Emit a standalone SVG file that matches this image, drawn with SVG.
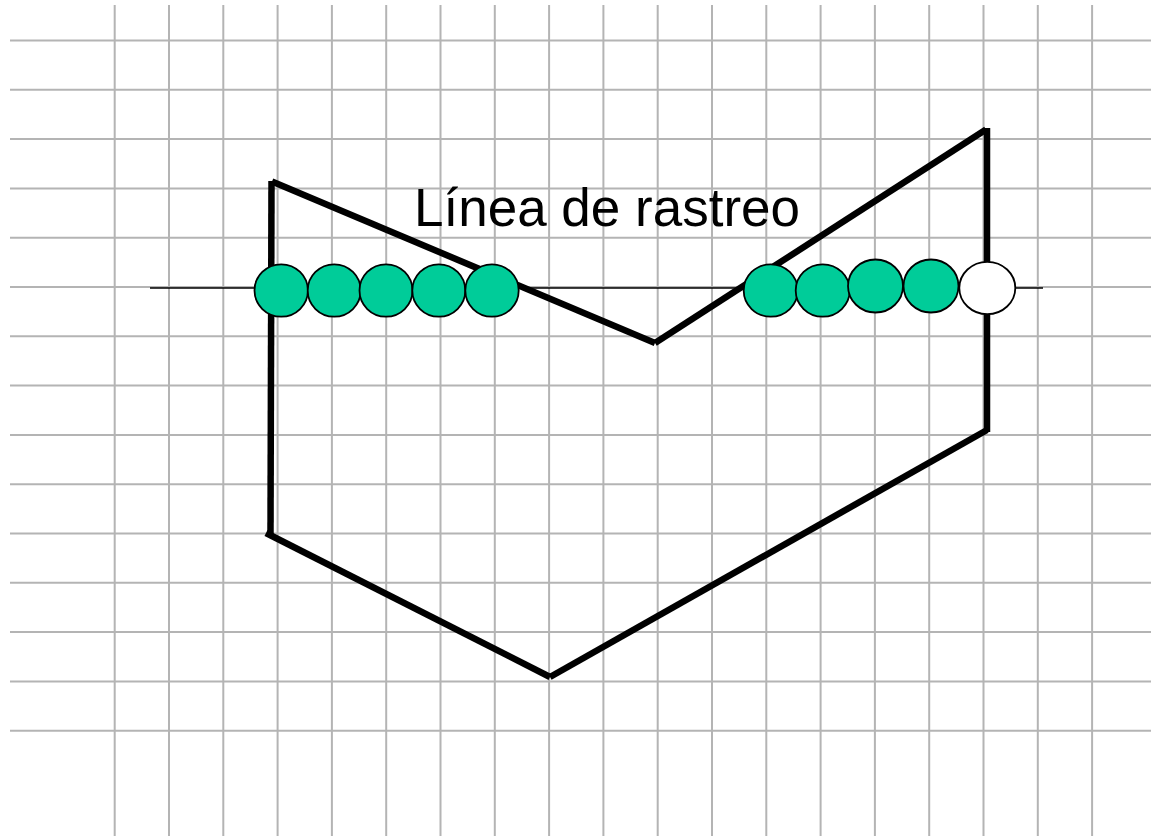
<svg xmlns="http://www.w3.org/2000/svg" width="1151" height="836" viewBox="0 0 1151 836">
<style>
.grid line{stroke:#b4b4b4;stroke-width:2}
.edge{stroke:#000;stroke-width:6.5;stroke-linecap:butt;fill:none}
.scan{stroke:#000;stroke-width:1.5}
.px{stroke:#000;stroke-width:1.8}
.on{fill:#00cc99}
.off{fill:#ffffff}
.lbl{font-family:"Liberation Sans",Arial,sans-serif;font-size:53px;fill:#000}
</style>
<rect width="1151" height="836" fill="#fff"/>
<g id="grid" class="grid">
<line x1="114.7" y1="5" x2="114.7" y2="836"/>
<line x1="169" y1="5" x2="169" y2="836"/>
<line x1="223.3" y1="5" x2="223.3" y2="836"/>
<line x1="277.6" y1="5" x2="277.6" y2="836"/>
<line x1="331.9" y1="5" x2="331.9" y2="836"/>
<line x1="386.2" y1="5" x2="386.2" y2="836"/>
<line x1="440.5" y1="5" x2="440.5" y2="836"/>
<line x1="494.8" y1="5" x2="494.8" y2="836"/>
<line x1="549.1" y1="5" x2="549.1" y2="836"/>
<line x1="603.4" y1="5" x2="603.4" y2="836"/>
<line x1="657.7" y1="5" x2="657.7" y2="836"/>
<line x1="712" y1="5" x2="712" y2="836"/>
<line x1="766.3" y1="5" x2="766.3" y2="836"/>
<line x1="820.6" y1="5" x2="820.6" y2="836"/>
<line x1="874.9" y1="5" x2="874.9" y2="836"/>
<line x1="929.2" y1="5" x2="929.2" y2="836"/>
<line x1="983.5" y1="5" x2="983.5" y2="836"/>
<line x1="1037.8" y1="5" x2="1037.8" y2="836"/>
<line x1="1092.1" y1="5" x2="1092.1" y2="836"/>
<line x1="10" y1="40.5" x2="1151" y2="40.5"/>
<line x1="10" y1="89.8" x2="1151" y2="89.8"/>
<line x1="10" y1="139.1" x2="1151" y2="139.1"/>
<line x1="10" y1="188.4" x2="1151" y2="188.4"/>
<line x1="10" y1="237.7" x2="1151" y2="237.7"/>
<line x1="10" y1="287" x2="1151" y2="287"/>
<line x1="10" y1="336.3" x2="1151" y2="336.3"/>
<line x1="10" y1="385.6" x2="1151" y2="385.6"/>
<line x1="10" y1="434.9" x2="1151" y2="434.9"/>
<line x1="10" y1="484.2" x2="1151" y2="484.2"/>
<line x1="10" y1="533.5" x2="1151" y2="533.5"/>
<line x1="10" y1="582.8" x2="1151" y2="582.8"/>
<line x1="10" y1="632.1" x2="1151" y2="632.1"/>
<line x1="10" y1="681.4" x2="1151" y2="681.4"/>
<line x1="10" y1="730.7" x2="1151" y2="730.7"/>
</g>
<g id="polygon">
<line class="edge" x1="271.5" y1="181" x2="270.5" y2="535"/>
<line class="edge" x1="272" y1="181.5" x2="655" y2="343"/>
<line class="edge" x1="655" y1="343" x2="986" y2="129.5"/>
<line class="edge" x1="987" y1="128" x2="987" y2="432"/>
<line class="edge" x1="987" y1="430" x2="550" y2="677"/>
<line class="edge" x1="550" y1="677" x2="266" y2="533"/>
</g>
<g id="scanline">
<line class="scan" x1="150" y1="288" x2="1043" y2="288"/>
</g>
<g id="pixels" class="px">
<ellipse class="on" cx="281.2" cy="290.5" rx="26.7" ry="26.2"/>
<ellipse class="on" cx="334.2" cy="290.5" rx="26.5" ry="26.2"/>
<ellipse class="on" cx="386" cy="290.5" rx="26.5" ry="26.2"/>
<ellipse class="on" cx="438.8" cy="290.5" rx="26.5" ry="26.2"/>
<ellipse class="on" cx="492" cy="290.5" rx="26.7" ry="26.2"/>
<ellipse class="on" cx="770.7" cy="290.5" rx="27" ry="26.2"/>
<ellipse class="on" cx="822.7" cy="290.5" rx="27" ry="26.2"/>
<ellipse class="on" cx="875.5" cy="286" rx="27.5" ry="26.5"/>
<ellipse class="on" cx="931" cy="286" rx="27.5" ry="26.5"/>
<ellipse class="off" cx="987.3" cy="288" rx="28" ry="26.2"/>
</g>
<g id="label">
<text class="lbl" x="414" y="226">Línea de rastreo</text>
</g>
</svg>
